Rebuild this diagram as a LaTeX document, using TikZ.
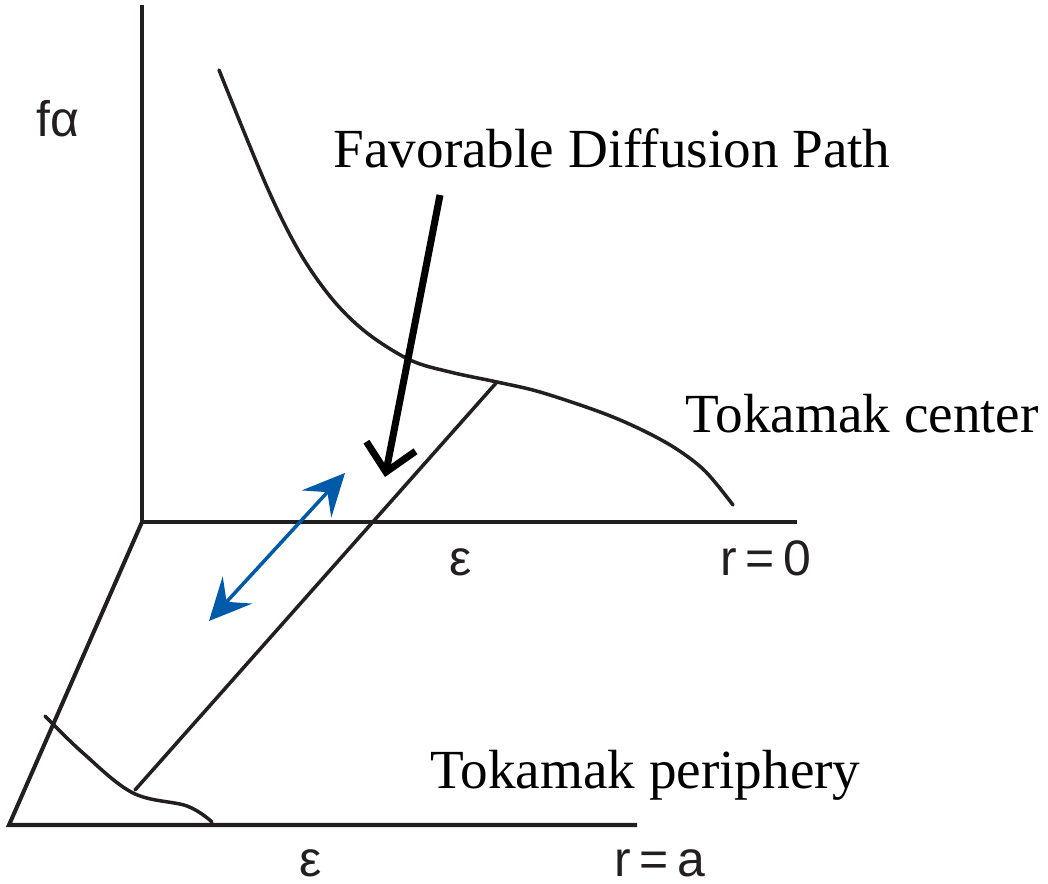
\documentclass[tikz,border=0pt]{standalone}
\usepackage{fontspec}
\setmainfont{Liberation Serif}
\setsansfont{Liberation Sans}
\usepackage{xcolor}
\definecolor{inkblack}{RGB}{35,31,32}
\definecolor{pathblue}{RGB}{0,90,170}
\usepackage{tikz}
\usetikzlibrary{arrows.meta, positioning, calc}

\begin{document}
\begin{tikzpicture}[
  axis/.style={draw=inkblack, line width=1.15pt},
  profile/.style={draw=inkblack, line width=1pt, line cap=round},
  caption/.style={font=\fontsize{15.7}{18}\selectfont, inner sep=0pt},
  symb/.style={font=\sffamily\fontsize{14.2}{16}\selectfont, inner sep=0pt, text=inkblack}
]
  \useasboundingbox (0,0) rectangle (10.48,8.83);

  % axes
  \coordinate (top) at (1.42,8.78);
  \coordinate (orig) at (1.42,3.61);
  \coordinate (rzero) at (7.97,3.61);
  \coordinate (corner) at (0.09,0.58);
  \coordinate (ra) at (6.37,0.58);
  \draw[axis] (top) -- (orig) -- (rzero);
  \draw[axis] (orig) -- (corner) -- (ra);

  % distribution at the center
  \coordinate (cpeak) at (4.97,5.01);
  \draw[profile] plot[smooth, tension=0.55] coordinates {
    (2.19,8.13) (2.67,6.96) (3.00,6.30) (3.33,5.83) (3.67,5.50)
    (4.10,5.23) (4.50,5.11) (cpeak) (5.40,4.91) (6.00,4.71)
    (6.40,4.54) (6.75,4.35) (7.05,4.12) (7.33,3.78)};

  % distribution at the periphery
  \coordinate (ppeak) at (1.35,0.93);
  \draw[profile] plot[smooth, tension=0.6] coordinates {
    (0.45,1.67) (0.83,1.30) (1.33,0.90) (1.87,0.77) (2.12,0.61)};

  \draw[profile] (cpeak) -- (ppeak);

  % labels
  \node[symb, anchor=base] (falpha) at (0.58,7.46) {fα};
  \node[caption, anchor=base west] (fdp) at (3.33,7.15) {Favorable Diffusion Path};
  \node[caption, anchor=base west] (center) at (6.85,4.50) {Tokamak center};
  \node[caption, anchor=base west] (periph) at (4.30,0.95) {Tokamak periphery};
  \node[symb, anchor=base] (epsc) at (4.61,3.08) {ε};
  \node[symb, anchor=base] (rc) at (7.66,3.08) {r\,=\,0};
  \node[symb, anchor=base] (epsp) at (3.11,0.07) {ε};
  \node[symb, anchor=base] (rp) at (6.60,0.07) {r\,=\,a};

  % arrows
  \coordinate (astart) at (4.40,6.88);
  \coordinate (aend) at (3.85,4.06);
  \draw[line width=2pt, -{Straight Barb[length=2.6mm, width=5mm]}] (astart) -- (aend);

  \coordinate (bdown) at (2.09,2.62);
  \coordinate (bup) at (3.45,4.10);
  \draw[pathblue, line width=1pt, {Stealth[length=4.2mm, width=4mm, inset=1.6mm]}-{Stealth[length=4.2mm, width=4mm, inset=1.6mm]}] (bdown) -- (bup);
\end{tikzpicture}
\end{document}
